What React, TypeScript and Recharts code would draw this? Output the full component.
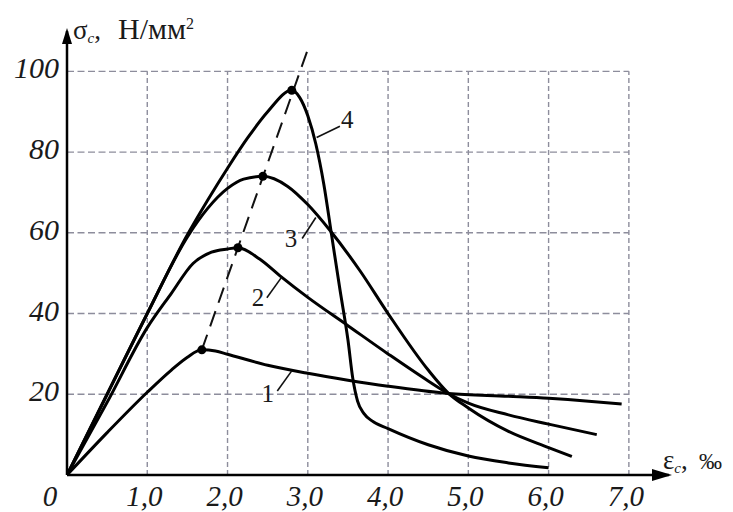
import { LineChart, Line, XAxis, YAxis, ReferenceLine, ReferenceDot } from "recharts";

// strain, ‰
const xTicks = [0, 1, 2, 3, 4, 5, 6, 7];
// stress, N/mm²
const yTicks = [20, 40, 60, 80, 100];

const strain1 = [0, 0.5, 1.0, 1.3, 1.5, 1.68, 1.85, 2.0, 2.5, 3.0, 3.5, 4.0, 4.75, 5.5, 6.0, 6.5, 6.91];
const stress1 = [0, 10.5, 20.5, 26, 29.2, 31, 30.7, 29.9, 27.2, 25.2, 23.5, 22, 20.2, 19.5, 19, 18.3, 17.6];

const strain2 = [0, 0.5, 1.0, 1.3, 1.57, 1.8, 2.0, 2.13, 2.4, 2.65, 3.0, 3.5, 4.0, 4.5, 4.75, 5.0, 5.5, 6.0, 6.6];
const stress2 = [0, 18, 36.5, 45, 52.4, 55.2, 56, 56.3, 53.5, 49.4, 44, 37, 30, 23.3, 20.2, 17.8, 14.9, 12.6, 10];

const strain3 = [0, 0.5, 1.0, 1.5, 1.75, 2.0, 2.2, 2.44, 2.75, 3.0, 3.28, 3.65, 4.0, 4.5, 4.75, 5.0, 5.5, 6.0, 6.29];
const stress3 = [0, 20, 40, 59, 66, 71, 73.3, 74, 71.5, 67, 60.5, 50.6, 40, 26, 20.3, 16.6, 10.8, 6.8, 4.6];

const strain4 = [0, 0.5, 1.0, 1.5, 1.75, 2.0, 2.25, 2.5, 2.8, 2.9, 3.0, 3.1, 3.2, 3.3, 3.4, 3.5, 3.56, 3.62, 3.7, 3.8, 4.0, 4.5, 5.0, 5.5, 6.0];
const stress4 = [0, 20, 40, 59.5, 68, 76, 83.5, 90, 95.3, 93.5, 89, 82, 72, 59, 46, 33.5, 24, 18.3, 15.2, 13.4, 11.5, 7.5, 4.7, 3, 1.8];

// peak points of the curves and the dashed line through them
const peakStrain = [1.68, 2.13, 2.44, 2.8];
const peakStress = [31, 56.3, 74, 95.3];
const peakLineStrain = [1.68, 3.01];
const peakLineStress = [31, 106];

// curve numbers with their leader lines (data units)
const curveNames = ["1", "2", "3", "4"];
const nameStrain = [2.5, 2.38, 2.79, 3.49];
const nameStress = [20.3, 44.2, 58.6, 88.3];
const leaderFrom = [[2.62, 20.8], [2.49, 43.9], [2.93, 58.6], [3.11, 83.6]];
const leaderTo = [[2.8, 25.8], [2.67, 48.9], [3.1, 63.8], [3.4, 86.4]];

const zip = (xs: number[], ys: number[]) => xs.map((x, i) => ({ x, y: ys[i] }));

const curves = [
  zip(strain1, stress1),
  zip(strain2, stress2),
  zip(strain3, stress3),
  zip(strain4, stress4),
];

const SERIF = "'Liberation Serif', 'Times New Roman', serif";
const GRID = "#8d8d9c";

function XTick({ x, y, payload }: any) {
  const v = payload.value as number;
  const label = v === 0 ? "0" : v.toFixed(1).replace(".", ",");
  return (
    <text
      x={v === 0 ? x - 17 : x - 3}
      y={y + 31}
      textAnchor="middle"
      fontFamily={SERIF}
      fontStyle="italic"
      fontSize={29}
      fill="#1a1a1a"
    >
      {label}
    </text>
  );
}

function YTick({ x, y, payload }: any) {
  return (
    <text
      x={x}
      y={y + 7}
      textAnchor="end"
      fontFamily={SERIF}
      fontStyle="italic"
      fontSize={30}
      fill="#1a1a1a"
    >
      {payload.value}
    </text>
  );
}

function XArrow({ cx, cy }: any) {
  return (
    <g>
      <polygon points={`${cx + 3},${cy} ${cx - 17},${cy - 6} ${cx - 17},${cy + 6}`} fill="#000" />
      <text x={cx - 6} y={cy - 6} fontFamily={SERIF} fontSize={27} fill="#1a1a1a">
        ε
        <tspan fontSize={15} fontStyle="italic" dy={4}>c</tspan>
        <tspan dy={-4}>,</tspan>
        <tspan x={cx + 30} fontSize={23}>‰</tspan>
      </text>
    </g>
  );
}

function YArrow({ cx, cy }: any) {
  return (
    <g>
      <polygon points={`${cx},${cy - 3} ${cx - 5},${cy + 13} ${cx + 5},${cy + 13}`} fill="#000" />
      <text x={cx + 6} y={cy + 8} fontFamily={SERIF} fontSize={27} fill="#1a1a1a">
        σ
        <tspan fontSize={15} fontStyle="italic" dy={4}>c</tspan>
        <tspan dy={-4}>,</tspan>
        <tspan x={cx + 51} fontSize={30}>Н/мм</tspan>
        <tspan fontSize={16} dy={-10}>2</tspan>
      </text>
    </g>
  );
}

function CurveName({ cx, cy, name }: any) {
  return (
    <text x={cx} y={cy + 9} textAnchor="middle" fontFamily={SERIF} fontSize={25} fill="#1a1a1a">
      {name}
    </text>
  );
}

export default function App() {
  return (
    <LineChart
      width={725}
      height={504}
      margin={{ top: 23, right: 64, bottom: 0, left: 0 }}
      style={{ background: "#fff", overflow: "visible" }}
    >
      {xTicks.slice(1).map((t) => (
        <ReferenceLine
          key={`gx${t}`}
          segment={[{ x: t, y: 0 }, { x: t, y: 100 }]}
          stroke={GRID}
          strokeWidth={1.4}
          strokeDasharray="5 3"
        />
      ))}
      {yTicks.map((t) => (
        <ReferenceLine
          key={`gy${t}`}
          segment={[{ x: 0, y: t }, { x: 7, y: t }]}
          stroke={GRID}
          strokeWidth={1.4}
          strokeDasharray="7 3.5"
        />
      ))}
      <XAxis
        type="number"
        dataKey="x"
        domain={[0, 7.5]}
        ticks={xTicks}
        interval={0}
        height={37}
        tickSize={0}
        tickMargin={0}
        tick={<XTick />}
        axisLine={{ stroke: "#000", strokeWidth: 2.5 }}
        tickLine={false}
        allowDataOverflow
      />
      <YAxis
        type="number"
        dataKey="y"
        domain={[0, 110]}
        ticks={yTicks}
        interval={0}
        width={59}
        tickSize={0}
        tickMargin={8}
        tick={<YTick />}
        axisLine={{ stroke: "#000", strokeWidth: 2.5 }}
        tickLine={false}
        allowDataOverflow
      />
      <Line
        data={zip(peakLineStrain, peakLineStress)}
        dataKey="y"
        type="linear"
        stroke="#111"
        strokeWidth={2}
        strokeDasharray="16 9"
        dot={false}
        isAnimationActive={false}
      />
      {curves.map((c, i) => (
        <Line
          key={`c${i}`}
          data={c}
          dataKey="y"
          type="monotone"
          stroke="#000"
          strokeWidth={3}
          dot={false}
          isAnimationActive={false}
        />
      ))}
      {peakStrain.map((x, i) => (
        <ReferenceDot key={`p${i}`} x={x} y={peakStress[i]} r={4.5} fill="#000" stroke="none" />
      ))}
      {leaderFrom.map((f, i) => (
        <ReferenceLine
          key={`l${i}`}
          segment={[{ x: f[0], y: f[1] }, { x: leaderTo[i][0], y: leaderTo[i][1] }]}
          stroke="#111"
          strokeWidth={1.6}
        />
      ))}
      {curveNames.map((n, i) => (
        <ReferenceDot
          key={`n${i}`}
          x={nameStrain[i]}
          y={nameStress[i]}
          r={0}
          shape={(p: any) => <CurveName {...p} name={n} />}
        />
      ))}
      <ReferenceDot x={7.5} y={0} r={0} shape={(p: any) => <XArrow {...p} />} />
      <ReferenceDot x={0} y={110} r={0} shape={(p: any) => <YArrow {...p} />} />
    </LineChart>
  );
}
